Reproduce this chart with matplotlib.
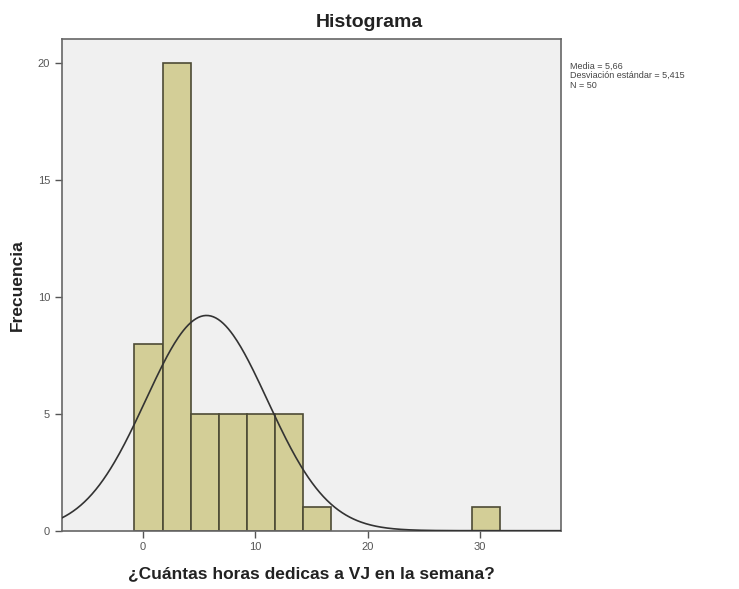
import matplotlib
matplotlib.use('Agg')
import matplotlib.pyplot as plt
import numpy as np

plt.rcParams['font.family'] = ['Liberation Sans', 'DejaVu Sans']

# histogram bins (left edges) and counts
bin_edges = [-0.75, 1.75, 4.25, 6.75, 9.25, 11.75, 14.25, 29.25]
bin_width = 2.5
counts = [8, 20, 5, 5, 5, 5, 1, 1]

media = 5.66
desv = 5.415
n = 50

fig = plt.figure(figsize=(7.39, 5.89), dpi=100)
ax = fig.add_axes([0.0839, 0.099, 0.6753, 0.834])
ax.set_facecolor('#f0f0f0')

ax.bar(bin_edges, counts, width=bin_width, align='edge',
       color='#d3ce97', edgecolor='#4d4b35', linewidth=1.2, zorder=2)

# normal curve scaled to frequencies
xs = np.linspace(-7.2, 37.2, 400)
ys = n * bin_width / (desv * np.sqrt(2 * np.pi)) * np.exp(-0.5 * ((xs - media) / desv) ** 2)
ax.plot(xs, ys, color='#333333', linewidth=1.2, zorder=3)

ax.set_xlim(-7.2, 37.2)
ax.set_ylim(0, 21.02)
ax.set_xticks([0, 10, 20, 30])
ax.set_yticks([0, 5, 10, 15, 20])
ax.tick_params(labelsize=8, colors='#555555', length=5, width=1)
for s in ax.spines.values():
    s.set_color('#666666')
    s.set_linewidth(1.2)

ax.set_xlabel('¿Cuántas horas dedicas a VJ en la semana?', fontsize=12.5,
              fontweight='bold', color='#222222', labelpad=10)
ax.set_ylabel('Frecuencia', fontsize=12.5, fontweight='bold', color='#222222', labelpad=9)
fig.text(0.5, 0.962, 'Histograma', ha='center', va='center', fontsize=14,
         fontweight='bold', color='#222222')

fig.text(0.771, 0.895, 'Media = 5,66\nDesviación estándar = 5,415\nN = 50',
         ha='left', va='top', fontsize=6.5, color='#444444', linespacing=1.05)

fig.savefig('out.png', dpi=100)
